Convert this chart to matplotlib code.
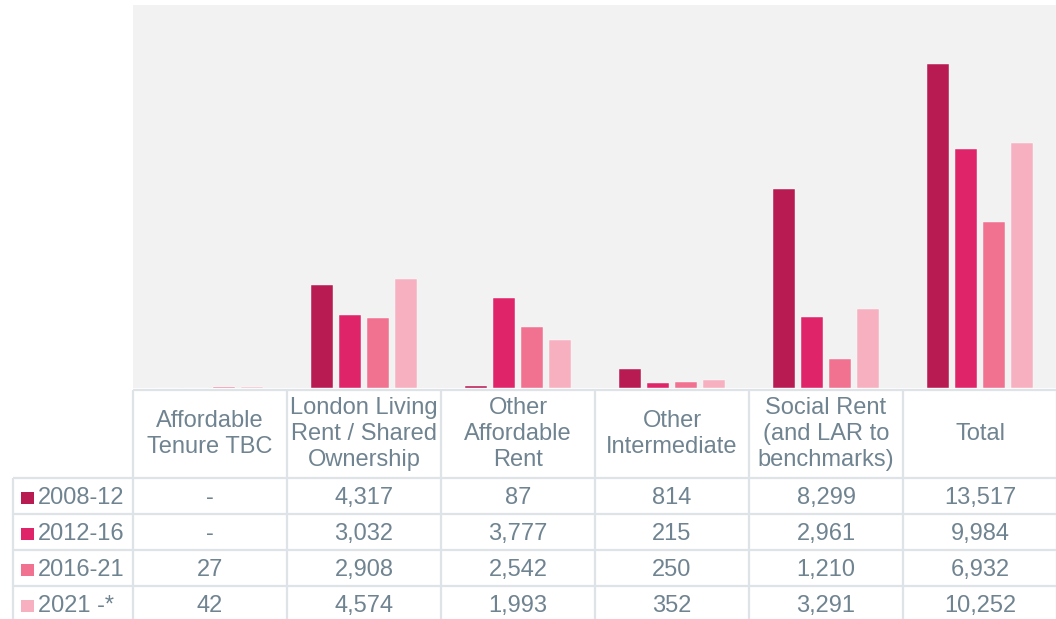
import numpy as np
import matplotlib
matplotlib.use("Agg")
import matplotlib.pyplot as plt
from matplotlib.patches import Rectangle

# -- Data --
categories = ["Affordable\nTenure TBC", "London Living\nRent / Shared\nOwnership",
              "Other\nAffordable\nRent", "Other\nIntermediate",
              "Social Rent\n(and LAR to\nbenchmarks)", "Total"]
periods = ["2008-12", "2012-16", "2016-21", "2021 -*"]
v_2008_12 = [None, 4317, 87, 814, 8299, 13517]
v_2012_16 = [None, 3032, 3777, 215, 2961, 9984]
v_2016_21 = [27, 2908, 2542, 250, 1210, 6932]
v_2021 = [42, 4574, 1993, 352, 3291, 10252]
series = [v_2008_12, v_2012_16, v_2016_21, v_2021]

colors = ["#b81b52", "#e0246a", "#f07190", "#f6b0bf"]
TEXT = "#6f8390"
GRID = "#dde3e6"

plt.rcParams.update({"font.family": ["Liberation Sans", "DejaVu Sans"]})

W, H = 1056, 619
fig = plt.figure(figsize=(W / 100, H / 100), dpi=100)

# bar area (pixel bounds of the reference)
x0, x1 = 133, 1057
y_top, y_base = 5, 388
ax = fig.add_axes([x0 / W, 1 - y_base / H, (x1 - x0) / W, (y_base - y_top) / H])
ax.set_facecolor("#f2f2f2")
for s in ax.spines.values():
    s.set_visible(False)
ax.set_xticks([])
ax.set_yticks([])

x = np.arange(len(categories))
width = 0.143
offsets = [-0.27, -0.09, 0.09, 0.27]
for vals, off, c in zip(series, offsets, colors):
    h = [0 if v is None else v for v in vals]
    ax.bar(x + off, h, width, color=c, edgecolor="white", linewidth=0.3)
ax.set_xlim(-0.5, 5.5)
ax.set_ylim(0, 16000)

# -- Data table below --
tab = fig.add_axes([x0 / W, 0, (x1 - x0) / W, (H - y_base) / H])
tab.set_xlim(-0.5, 5.5)
tab.set_ylim(H, y_base)
tab.axis("off")

unit = (x1 - x0) / 6.0
lab_left = -0.5 - (x0 - 13) / unit
row_edges = [478, 514, 550, 586, 622]
kw = dict(color=GRID, lw=1.6, clip_on=False, solid_capstyle="butt")

# header row lines
tab.plot([-0.5, 5.5], [390, 390], **kw)
for i in range(7):
    tab.plot([i - 0.5, i - 0.5], [390, H + 5], **kw)
# data row lines
for yy in row_edges[:-1]:
    tab.plot([lab_left, 5.5], [yy, yy], **kw)
tab.plot([lab_left, lab_left], [row_edges[0], H + 5], **kw)

fs = 17
for i, cat in enumerate(categories):
    tab.text(i, 434, cat, ha="center", va="center", fontsize=fs, color=TEXT,
             linespacing=1.26, clip_on=False)

for r, (per, vals, c) in enumerate(zip(periods, series, colors)):
    yc = (row_edges[r] + row_edges[r + 1]) / 2 + 2
    sq = 12.5 / unit
    tab.add_patch(Rectangle((lab_left + 8 / unit, yc + 6), sq, -12.5,
                            facecolor=c, edgecolor="none", clip_on=False))
    tab.text(lab_left + 25 / unit, yc, per, ha="left", va="center",
             fontsize=fs, color=TEXT, clip_on=False)
    for i, v in enumerate(vals):
        s = "-" if v is None else f"{v:,}"
        tab.text(i, yc, s, ha="center", va="center", fontsize=fs,
                 color=TEXT, clip_on=False)

fig.savefig("out.png", dpi=100, facecolor="white")
